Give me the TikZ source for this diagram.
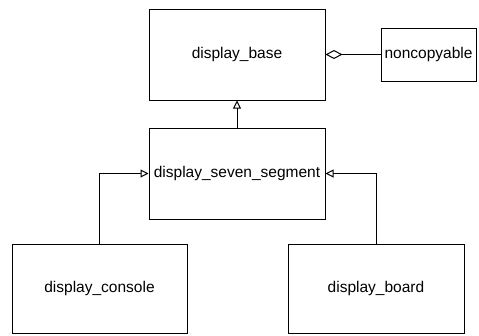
\documentclass[tikz,border=0pt]{standalone}
\usepackage{fontspec}
\setmainfont{Liberation Sans}
\usetikzlibrary{arrows.meta}
\begin{document}
\begin{tikzpicture}[x=1pt,y=-1pt,
  cls/.style={draw, line width=1pt, inner sep=0pt, font=\fontsize{15.5}{18}\selectfont},
  inh/.style={draw, line width=1pt, -{Triangle[open, length=8pt, width=8pt, line width=1pt]}},
  agg/.style={draw, line width=1pt, -{Diamond[open, length=17pt, width=9pt, line width=1pt]}}]
\useasboundingbox (0,0) rectangle (479,335);
\node[cls, minimum width=176pt, minimum height=91pt] (base) at (237,54.5) {display\_base};
\node[cls, minimum width=95pt, minimum height=53pt] (nc) at (428.5,54.5) {noncopyable};
\node[cls, minimum width=176pt, minimum height=91pt] (seg) at (237,173.5) {display\_seven\_segment};
\node[cls, minimum width=175pt, minimum height=89pt] (con) at (99.5,288.5) {display\_console};
\node[cls, minimum width=176pt, minimum height=89pt] (brd) at (376,288.5) {display\_board};
\draw[inh] (seg.north) -- (base.south);
\draw[agg] (nc.west) -- (base.east);
\draw[inh] (con.north) |- (seg.west);
\draw[inh] (brd.north) |- (seg.east);
\end{tikzpicture}
\end{document}
